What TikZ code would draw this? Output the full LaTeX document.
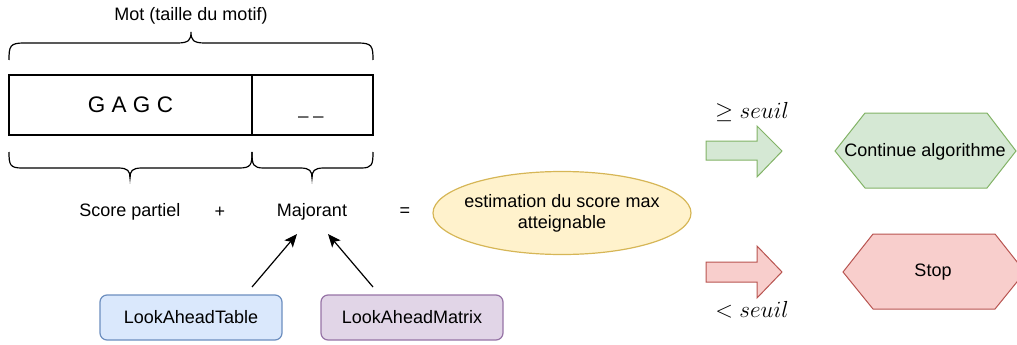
\documentclass[tikz,border=0pt]{standalone}
\usepackage{fontspec}
\setmainfont{Liberation Sans}
\usetikzlibrary{arrows.meta,shapes.geometric}
\definecolor{bluefill}{HTML}{DAE8FC}\definecolor{bluedraw}{HTML}{6C8EBF}
\definecolor{purplefill}{HTML}{E1D5E7}\definecolor{purpledraw}{HTML}{9673A6}
\definecolor{greenfill}{HTML}{D5E8D4}\definecolor{greendraw}{HTML}{82B366}
\definecolor{redfill}{HTML}{F8CECC}\definecolor{reddraw}{HTML}{B85450}
\definecolor{yellowfill}{HTML}{FFF2CC}\definecolor{yellowdraw}{HTML}{D6B656}
\begin{document}
\begin{tikzpicture}[x=1pt,y=-1pt,line width=1.2pt,
  txt/.style={font=\fontsize{18}{21}\selectfont,inner sep=0pt,align=center},
  cell/.style={draw,minimum height=60pt,inner sep=0pt,font=\fontsize{22.5}{26}\selectfont},
  brace/.style={draw,line width=1.2pt},
  tablebox/.style={draw,rounded corners=7pt,minimum width=182pt,minimum height=45pt,txt},
  pointer/.style={-{Stealth[length=13pt,width=11pt,inset=3pt]},line width=1.2pt},
  threshold/.style={font=\fontsize{20.74}{24}\selectfont,inner sep=0pt}]
\useasboundingbox (0,0) rectangle (1017,345);
\clip (0,0) rectangle (1017,345);

% word cells
\node[txt] (mot) at (191,16) {Mot (taille du motif)};
\node[cell,minimum width=243pt] (known) at (130.5,105) {G A G C};
\node[cell,minimum width=121pt] (unknown) at (312.5,105) {};
\node[txt,anchor=base] (blanks) at (311,114) {\_ \_};

% braces
\draw[brace] (9,60) .. controls (9,46) and (10,43) .. (24,43) -- (177,43)
  .. controls (189,43) and (191,40) .. (191,32)
  .. controls (191,40) and (193,43) .. (205,43) -- (358,43)
  .. controls (372,43) and (373,46) .. (373,60);
\draw[brace] (9,152) .. controls (9,165) and (10,168) .. (22,168) -- (118,168)
  .. controls (128,168) and (130,171) .. (130,178)
  .. controls (130,171) and (132,168) .. (142,168) -- (239,168)
  .. controls (251,168) and (252,165) .. (252,152);
\draw[brace] (252,152) .. controls (252,165) and (253,168) .. (264,168) -- (300,168)
  .. controls (310,168) and (312,171) .. (312,178)
  .. controls (312,171) and (314,168) .. (324,168) -- (361,168)
  .. controls (372,168) and (373,165) .. (373,152);

% equation
\node[txt] (partial) at (130,212) {Score partiel};
\node[txt] (plus) at (220,212) {+};
\node[txt] (bound) at (312,212) {Majorant};
\node[txt] (equals) at (405,212) {=};
\node[ellipse,draw=yellowdraw,fill=yellowfill,minimum width=258pt,minimum height=83pt,inner sep=0pt]
  (estimate) at (562,213) {};
\node[txt] (estimatetext) at (estimate) {estimation du score max\\atteignable};

% lookahead sources
\node[tablebox,draw=bluedraw,fill=bluefill] (lat) at (191,317.5) {LookAheadTable};
\node[tablebox,draw=purpledraw,fill=purplefill] (lam) at (412,317.5) {LookAheadMatrix};
\coordinate (latout) at (252,287);
\coordinate (boundin1) at (297,234);
\coordinate (lamout) at (373,287);
\coordinate (boundin2) at (328,234);
\draw[pointer] (latout) -- (boundin1);
\draw[pointer] (lamout) -- (boundin2);

% decision arrows
\draw[draw=greendraw,fill=greenfill,line width=1pt] (706,141) -- (757,141) -- (757,126) -- (782,151)
  -- (757,177) -- (757,160) -- (706,160) -- cycle;
\draw[draw=reddraw,fill=redfill,line width=1pt] (706,262) -- (757,262) -- (757,246) -- (782,272)
  -- (757,298) -- (757,282) -- (706,282) -- cycle;
\node[threshold] (ge) at (752,112) {\scalebox{1.12}{$\geq seuil$}};
\node[threshold] (lt) at (752,310) {\scalebox{1.12}{$< seuil$}};

% outcomes
\draw[draw=greendraw,fill=greenfill,line width=1pt] (835,151) -- (865,113) -- (987,113) -- (1016,151)
  -- (987,188) -- (865,188) -- cycle;
\node[txt] (cont) at (925,152) {Continue algorithme};
\draw[draw=reddraw,fill=redfill,line width=1pt] (843,272) -- (873,234) -- (995,234) -- (1025,272)
  -- (995,309) -- (873,309) -- cycle;
\node[txt] (stop) at (933,272) {Stop};
\end{tikzpicture}
\end{document}
